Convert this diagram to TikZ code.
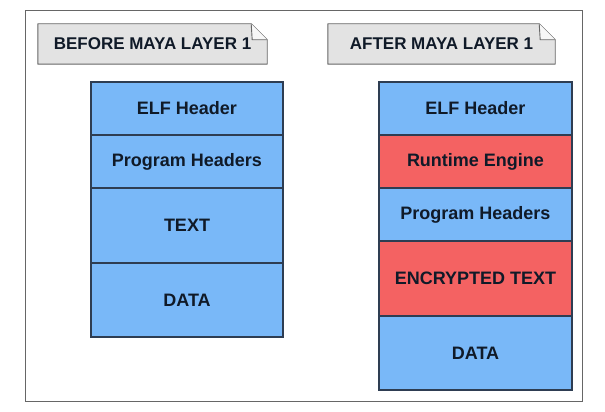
\documentclass[tikz,border=0pt]{standalone}
\usepackage{fontspec}
\setmainfont{Liberation Sans}
\usetikzlibrary{positioning}

\definecolor{segblue}{HTML}{79B8F8}
\definecolor{segred}{HTML}{F46262}
\definecolor{segline}{HTML}{2E3D52}
\definecolor{tagfill}{HTML}{E3E3E3}
\definecolor{inkdark}{HTML}{101A28}

\tikzset{
  seg/.style={draw=segline, line width=1.2pt, outer sep=0pt, inner sep=0pt,
    minimum width=192pt, text=inkdark, font=\fontsize{18}{21}\selectfont\bfseries},
  bluebox/.style={seg, fill=segblue},
  redbox/.style={seg, fill=segred},
  tag/.style={minimum width=229pt, minimum height=40pt, inner sep=0pt,
    text=inkdark, font=\fontsize{17}{20}\selectfont\bfseries},
  tagframe/.style={draw=black!60, fill=tagfill, line width=0.9pt, line join=round}
}

\begin{document}
\begin{tikzpicture}[x=1pt, y=-1pt]
  \useasboundingbox (0,0) rectangle (605,412);
  \fill[white] (0,0) rectangle (605,412);

  % Outer frame
  \draw[black!60, line width=1pt] (25,11) rectangle (582,401);

  % Titles
  \node[tag] (before) at (152.5,44) {};
  \draw[tagframe] (before.north west) -- ([xshift=-16pt]before.north east)
    -- ([yshift=-16pt]before.north east) -- (before.south east)
    -- (before.south west) -- cycle;
  \draw[tagframe, fill=black!3] ([xshift=-16pt]before.north east) -- ++(1,16) -- ++(15,0);
  \node[tag] at (before) {BEFORE MAYA LAYER 1};

  \node[tag, minimum width=227pt] (after) at (441.5,44) {};
  \draw[tagframe] (after.north west) -- ([xshift=-16pt]after.north east)
    -- ([yshift=-16pt]after.north east) -- (after.south east)
    -- (after.south west) -- cycle;
  \draw[tagframe, fill=black!3] ([xshift=-16pt]after.north east) -- ++(1,16) -- ++(15,0);
  \node[tag] at (after) {AFTER MAYA LAYER 1};

  % Layout before
  \node[bluebox, minimum height=53pt, anchor=north] (elfA) at (187,82) {ELF Header};
  \node[bluebox, minimum height=53pt, below=0pt of elfA] (phdrA) {Program Headers};
  \node[bluebox, minimum height=75pt, below=0pt of phdrA] (textA) {TEXT};
  \node[bluebox, minimum height=74pt, below=0pt of textA] (dataA) {DATA};

  % Layout after
  \node[bluebox, minimum width=193pt, minimum height=53pt, anchor=north] (elfB) at (475.5,82) {ELF Header};
  \node[redbox, minimum width=193pt, minimum height=53pt, below=0pt of elfB] (engB) {Runtime Engine};
  \node[bluebox, minimum width=193pt, minimum height=53pt, below=0pt of engB] (phdrB) {Program Headers};
  \node[redbox, minimum width=193pt, minimum height=75pt, below=0pt of phdrB] (textB) {ENCRYPTED TEXT};
  \node[bluebox, minimum width=193pt, minimum height=74pt, below=0pt of textB] (dataB) {DATA};
\end{tikzpicture}
\end{document}
